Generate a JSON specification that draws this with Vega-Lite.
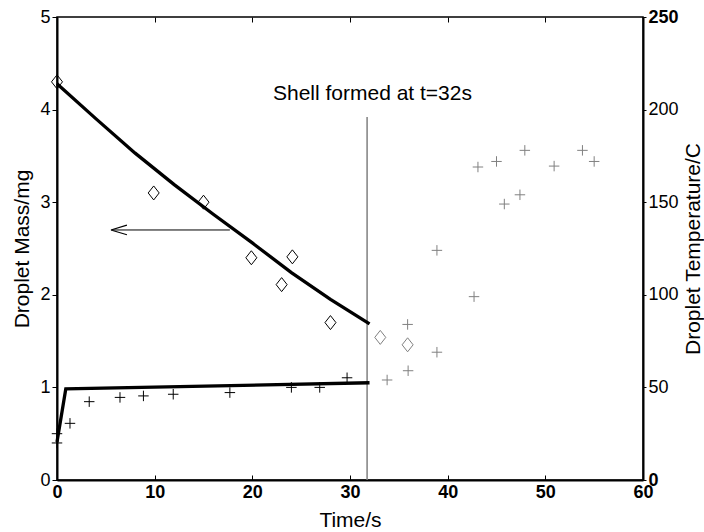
{
  "$schema": "https://vega.github.io/schema/vega-lite/v6.json",
  "width": 586,
  "height": 463,
  "autosize": "none",
  "padding": {"left": 57, "top": 17, "right": 61, "bottom": 52},
  "background": "white",
  "config": {
    "view": {"stroke": "black", "strokeWidth": 1.5},
    "font": "Liberation Sans",
    "axis": {
      "grid": false,
      "domainColor": "black",
      "domainWidth": 2,
      "tickColor": "black",
      "tickWidth": 1,
      "labelColor": "black",
      "titleColor": "black",
      "labelFont": "Liberation Sans",
      "titleFont": "Liberation Sans",
      "labelFontSize": 18,
      "titleFontSize": 21,
      "titleFontWeight": "normal",
      "labelFlush": false
    }
  },
  "datasets": {
    "mass_obs": [
      {"t": 0, "m": 4.30, "phase": "before"},
      {"t": 9.9, "m": 3.10, "phase": "before"},
      {"t": 15.0, "m": 3.00, "phase": "before"},
      {"t": 19.9, "m": 2.40, "phase": "before"},
      {"t": 23.0, "m": 2.11, "phase": "before"},
      {"t": 24.1, "m": 2.41, "phase": "before"},
      {"t": 28.0, "m": 1.70, "phase": "before"},
      {"t": 33.1, "m": 1.54, "phase": "after"},
      {"t": 35.9, "m": 1.46, "phase": "after"}
    ],
    "mass_model": [
      {"t": 0, "m": 4.28},
      {"t": 4, "m": 3.90},
      {"t": 8, "m": 3.53},
      {"t": 12, "m": 3.19},
      {"t": 16, "m": 2.87},
      {"t": 20, "m": 2.56},
      {"t": 24, "m": 2.24},
      {"t": 28, "m": 1.95},
      {"t": 32, "m": 1.685}
    ],
    "temp_obs": [
      {"t": 0, "T": 20, "phase": "before"},
      {"t": 0, "T": 25, "phase": "before"},
      {"t": 1.33, "T": 30.6, "phase": "before"},
      {"t": 3.3, "T": 42.3, "phase": "before"},
      {"t": 6.45, "T": 44.6, "phase": "before"},
      {"t": 8.85, "T": 45.4, "phase": "before"},
      {"t": 11.9, "T": 46.3, "phase": "before"},
      {"t": 17.7, "T": 47.2, "phase": "before"},
      {"t": 24.0, "T": 50.0, "phase": "before"},
      {"t": 26.9, "T": 50.0, "phase": "before"},
      {"t": 29.7, "T": 55.2, "phase": "before"},
      {"t": 33.8, "T": 54, "phase": "after"},
      {"t": 35.95, "T": 59, "phase": "after"},
      {"t": 35.9, "T": 84, "phase": "after"},
      {"t": 38.9, "T": 69, "phase": "after"},
      {"t": 38.9, "T": 124, "phase": "after"},
      {"t": 42.7, "T": 99, "phase": "after"},
      {"t": 43.1, "T": 169, "phase": "after"},
      {"t": 45.0, "T": 172, "phase": "after"},
      {"t": 45.8, "T": 149, "phase": "after"},
      {"t": 47.4, "T": 154, "phase": "after"},
      {"t": 47.9, "T": 178, "phase": "after"},
      {"t": 50.9, "T": 169.5, "phase": "after"},
      {"t": 53.8, "T": 178, "phase": "after"},
      {"t": 55.0, "T": 172, "phase": "after"}
    ],
    "temp_model": [
      {"t": 0, "T": 20.5},
      {"t": 0.9, "T": 49.2},
      {"t": 32, "T": 52.5}
    ]
  },
  "layer": [
    {
      "layer": [
        {
          "data": {"values": [{"t": 31.75, "m": 0, "m2": 3.92}]},
          "mark": {"type": "rule", "color": "#808080", "strokeWidth": 1.5},
          "encoding": {
            "x": {"field": "t", "type": "quantitative", "scale": {"domain": [0, 60], "nice": false, "zero": false},
              "axis": {"title": "Time/s", "orient": "bottom", "values": [0, 10, 20, 30, 40, 50, 60], "format": "d", "tickSize": -5, "labelPadding": 8, "labelFlush": false, "labelFontWeight": 700, "titleY": 46.5, "titleBaseline": "alphabetic"}},
            "y": {"field": "m", "type": "quantitative", "scale": {"domain": [0, 5], "nice": false},
              "axis": {"title": "Droplet Mass/mg", "orient": "left", "values": [0, 1, 2, 3, 4, 5], "format": "d", "tickSize": 5, "labelPadding": 2, "labelFontWeight": 400, "titleAngle": 270, "titleBaseline": "alphabetic", "titleX": -29}},
            "y2": {"field": "m2"}
          }
        },
        {
          "data": {"name": "mass_model"},
          "mark": {"type": "line", "color": "black", "strokeWidth": 3.3},
          "encoding": {
            "x": {"field": "t", "type": "quantitative"},
            "y": {"field": "m", "type": "quantitative"}
          }
        },
        {
          "data": {"name": "mass_obs"},
          "mark": {"type": "point", "shape": "M 0 -1 L 0.786 0 L 0 1 L -0.786 0 Z", "size": 196, "filled": false, "strokeWidth": 1, "opacity": 1},
          "encoding": {
            "x": {"field": "t", "type": "quantitative"},
            "y": {"field": "m", "type": "quantitative"},
            "color": {"field": "phase", "type": "nominal", "scale": {"domain": ["before", "after"], "range": ["#000000", "#808080"]}, "legend": null}
          }
        },
        {
          "data": {"values": [{"t": 5.6, "t2": 17.7, "m": 2.7}]},
          "mark": {"type": "rule", "color": "black", "strokeWidth": 1},
          "encoding": {
            "x": {"field": "t", "type": "quantitative"},
            "x2": {"field": "t2"},
            "y": {"field": "m", "type": "quantitative"}
          }
        },
        {
          "data": {"values": [{"t": 6.34, "m": 2.7}]},
          "mark": {"type": "point", "shape": "M -1 0 L 1 -0.6 M -1 0 L 1 0.6", "size": 256, "filled": false, "color": "black", "strokeWidth": 1.2, "opacity": 1},
          "encoding": {
            "x": {"field": "t", "type": "quantitative"},
            "y": {"field": "m", "type": "quantitative"}
          }
        },
        {
          "data": {"values": [{"t": 32.3, "m": 4.1, "label": "Shell formed at t=32s"}]},
          "mark": {"type": "text", "align": "center", "baseline": "alphabetic", "fontSize": 21, "color": "black", "font": "Liberation Sans"},
          "encoding": {
            "x": {"field": "t", "type": "quantitative"},
            "y": {"field": "m", "type": "quantitative"},
            "text": {"field": "label"}
          }
        }
      ]
    },
    {
      "layer": [
        {
          "data": {"name": "temp_model"},
          "mark": {"type": "line", "color": "black", "strokeWidth": 3.3},
          "encoding": {
            "x": {"field": "t", "type": "quantitative", "scale": {"domain": [0, 60], "nice": false, "zero": false},
              "axis": {"title": null, "orient": "top", "labels": false, "domain": false, "values": [0, 10, 20, 30, 40, 50, 60], "tickSize": -5}},
            "y": {"field": "T", "type": "quantitative", "scale": {"domain": [0, 250], "nice": false},
              "axis": {"title": "Droplet Temperature/C", "orient": "right", "values": [0, 50, 100, 150, 200, 250], "format": "d", "tickSize": 3, "labelPadding": 2,
                "labelFontWeight": {"condition": {"test": "datum.value == 0 || datum.value == 250", "value": 700}, "value": 400},
                "titleAngle": 270, "titleBaseline": "alphabetic", "titleX": 56}}
          }
        },
        {
          "data": {"name": "temp_obs"},
          "mark": {"type": "point", "shape": "M -1 0 L 1 0 M 0 -1 L 0 1", "size": 110, "filled": false, "strokeWidth": 1, "opacity": 1},
          "encoding": {
            "x": {"field": "t", "type": "quantitative"},
            "y": {"field": "T", "type": "quantitative"},
            "color": {"field": "phase", "type": "nominal", "scale": {"domain": ["before", "after"], "range": ["#000000", "#808080"]}, "legend": null}
          }
        }
      ]
    }
  ],
  "resolve": {"scale": {"y": "independent"}, "axis": {"x": "independent"}}
}
